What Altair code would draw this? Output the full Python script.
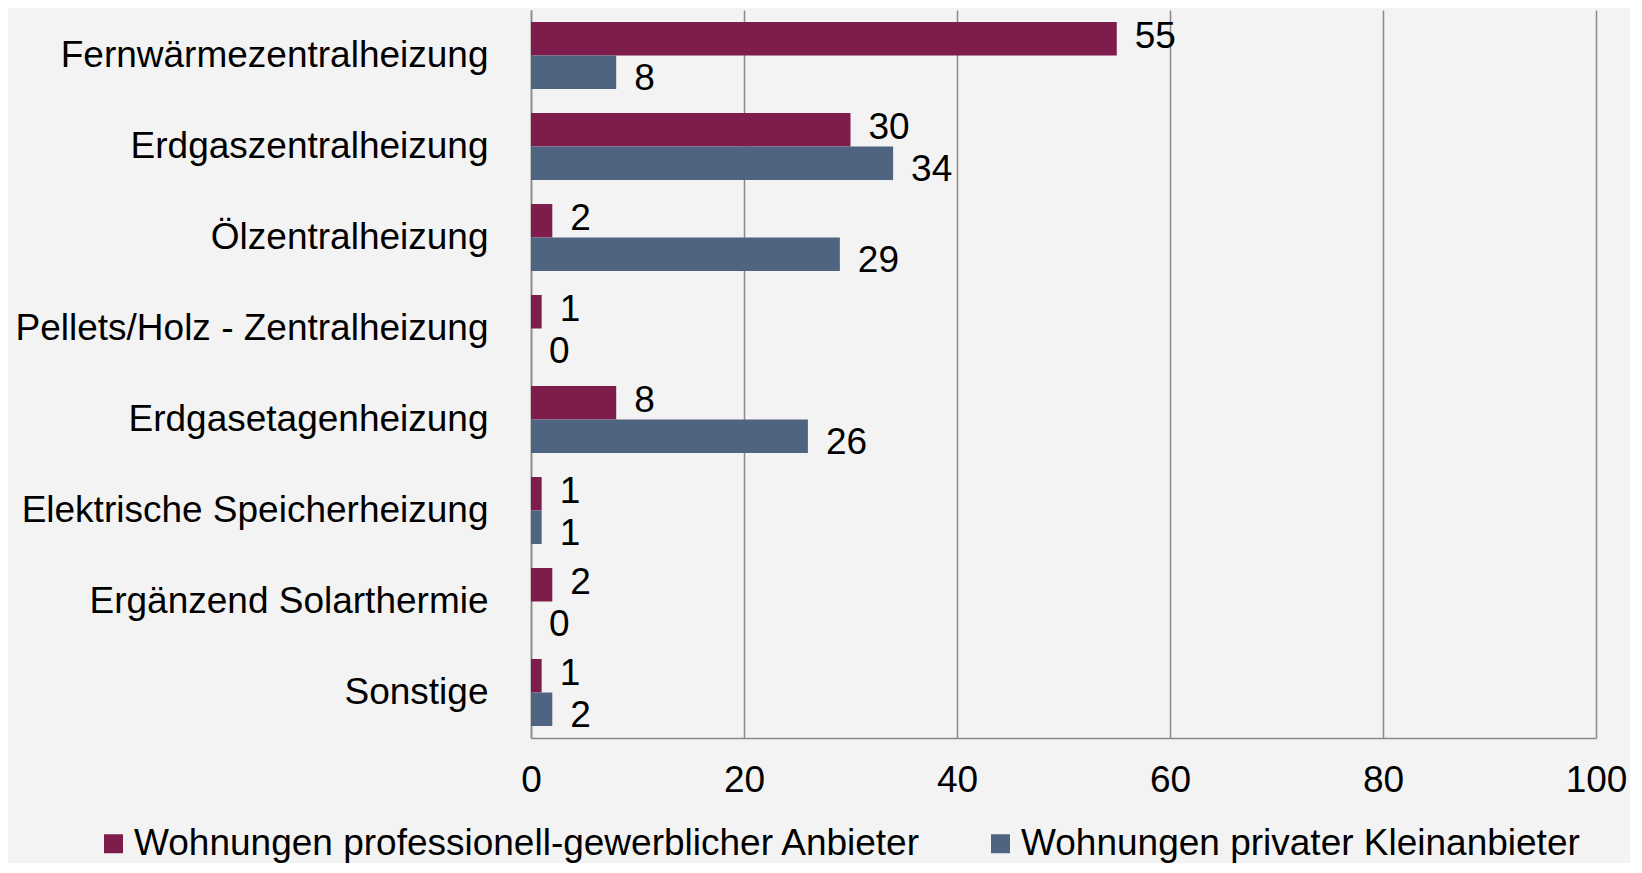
import altair as alt
import pandas as pd

categories = [
    "Fernwärmezentralheizung",
    "Erdgaszentralheizung\u00a0",
    "Ölzentralheizung",
    "Pellets/Holz - Zentralheizung",
    "Erdgasetagenheizung",
    "Elektrische Speicherheizung",
    "Ergänzend Solarthermie",
    "Sonstige",
]
series_names = [
    "Wohnungen professionell-gewerblicher Anbieter",
    "Wohnungen privater Kleinanbieter",
]
professionell = [55, 30, 2, 1, 8, 1, 2, 1]
privat = [8, 34, 29, 0, 26, 1, 0, 2]
x_ticks = [0, 20, 40, 60, 80, 100]
colors = ["#7e1c4b", "#4e6480"]

rows = []
for c, a, b in zip(categories, professionell, privat):
    rows.append({"cat": c, "series": series_names[0], "value": a})
    rows.append({"cat": c, "series": series_names[1], "value": b})
df = pd.DataFrame(rows)

FONT = "Liberation Sans"
FS = 37

y_enc = alt.Y(
    "cat:N",
    sort=categories,
    title=None,
    scale=alt.Scale(paddingInner=0.264, paddingOuter=0.132),
    axis=alt.Axis(
        labelFontSize=FS,
        labelFont=FONT,
        labelColor="black",
        labelPadding=43,
        ticks=False,
        tickSize=0,
        domain=True,
        domainColor="#898989",
        domainWidth=1.5,
        grid=False,
        labelLimit=1000,
    ),
)
x_enc = alt.X(
    "value:Q",
    title=None,
    scale=alt.Scale(domain=[0, 100], nice=False),
    axis=alt.Axis(
        values=x_ticks,
        labelFontSize=FS,
        labelFont=FONT,
        labelColor="black",
        labelPadding=24,
        labelFlush=False,
        ticks=False,
        tickSize=0,
        domain=True,
        domainColor="#898989",
        domainWidth=1.5,
        grid=True,
        gridColor="#898989",
        gridWidth=1.5,
    ),
)
yoff = alt.YOffset("series:N", sort=series_names)

base = alt.Chart(df)

bars = base.mark_bar().encode(
    x=x_enc,
    y=y_enc,
    yOffset=yoff,
    color=alt.Color(
        "series:N",
        sort=series_names,
        scale=alt.Scale(domain=series_names, range=colors),
        legend=alt.Legend(
            title=None,
            orient="none",
            legendX=-436,
            legendY=815,
            direction="horizontal",
            columns=2,
            columnPadding=60,
            symbolType="square",
            symbolSize=361,
            symbolStrokeWidth=0,
            labelFontSize=FS,
            labelFont=FONT,
            labelColor="black",
            labelOffset=2,
            labelLimit=2000,
        ),
    ),
)

text_prof = (
    base.transform_filter(alt.datum.series == series_names[0])
    .mark_text(align="left", baseline="middle", dx=18, dy=-2, fontSize=FS, font=FONT, color="black")
    .encode(x="value:Q", y=alt.Y("cat:N", sort=categories), yOffset=yoff, text="value:Q")
)
text_priv = (
    base.transform_filter(alt.datum.series == series_names[1])
    .mark_text(align="left", baseline="middle", dx=18, dy=7, fontSize=FS, font=FONT, color="black")
    .encode(x="value:Q", y=alt.Y("cat:N", sort=categories), yOffset=yoff, text="value:Q")
)

chart = (
    alt.layer(bars, text_prof, text_priv)
    .properties(
        width=1065,
        height=728,
        autosize="none",
        padding={"left": 523, "top": 2, "right": 34, "bottom": 125},
        background="#f3f3f3",
    )
    .configure_view(stroke=None)
)

chart.save("out.html", embed_options={"renderer": "svg", "actions": False})
